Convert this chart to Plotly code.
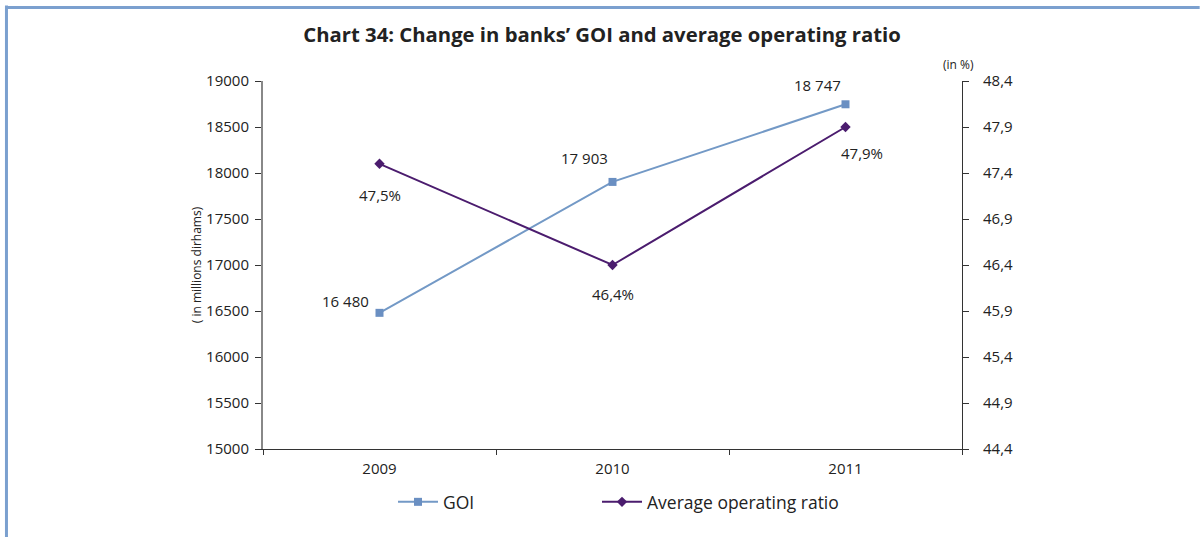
import plotly.graph_objects as go

years = ["2009", "2010", "2011"]
goi = [16480, 17903, 18747]
ratio = [47.5, 46.4, 47.9]
goi_labels = ["16 480", "17 903", "18 747"]
ratio_labels = ["47,5%", "46,4%", "47,9%"]
left_ticks = [15000, 15500, 16000, 16500, 17000, 17500, 18000, 18500, 19000]
right_ticks = [44.4, 44.9, 45.4, 45.9, 46.4, 46.9, 47.4, 47.9, 48.4]
right_ticktext = ["44,4", "44,9", "45,4", "45,9", "46,4", "46,9", "47,4", "47,9", "48,4"]

FONT = "Open Sans"
goi_color = "#7399c6"
ratio_color = "#4b1c6e"

fig = go.Figure()
fig.add_trace(go.Scatter(
    x=years, y=goi, name="GOI", mode="lines+markers", legend="legend",
    line=dict(color=goi_color, width=2),
    marker=dict(symbol="square", size=8, color="#6a8fc2"),
))
fig.add_trace(go.Scatter(
    x=years, y=ratio, name="Average operating ratio", mode="lines+markers",
    yaxis="y2", legend="legend2",
    line=dict(color=ratio_color, width=2),
    marker=dict(symbol="diamond", size=8, color=ratio_color),
))

# data labels (category index used for x so "2009" is not read as an index)
goi_shift = [(-34, 12), (-28, 24), (-28, 19)]
for i, (y, t, (dx, dy)) in enumerate(zip(goi, goi_labels, goi_shift)):
    fig.add_annotation(x=i, y=y, text=t, showarrow=False, xshift=dx, yshift=dy,
                       font=dict(size=15, color="#222", family=FONT))
ratio_shift = [(0, -31), (0, -29), (16, -26)]
for i, (y, t, (dx, dy)) in enumerate(zip(ratio, ratio_labels, ratio_shift)):
    fig.add_annotation(x=i, y=y, text=t, showarrow=False, xshift=dx, yshift=dy, yref="y2",
                       font=dict(size=15, color="#222", family=FONT))

fig.add_annotation(x=1.0, y=1.0, xref="paper", yref="paper", text="(in %)",
                   showarrow=False, xanchor="center", yanchor="bottom", xshift=-4, yshift=6,
                   font=dict(size=12, color="#222", family=FONT))

# page border: left edge and top edge
fig.add_shape(type="line", xref="paper", yref="paper", x0=-0.367, x1=-0.367, y0=-0.3, y1=1.205,
              line=dict(color="#7ba0cf", width=3), layer="above")
fig.add_shape(type="line", xref="paper", yref="paper", x0=-0.367, x1=1.34, y0=1.2, y1=1.2,
              line=dict(color="#7ba0cf", width=3), layer="above")

legend_style = dict(orientation="h", xanchor="left", y=-0.095, yanchor="top",
                    font=dict(size=17.5), bgcolor="rgba(0,0,0,0)")

fig.update_layout(
    width=1204, height=537,
    margin=dict(l=263, r=242, t=81, b=88, autoexpand=False),
    paper_bgcolor="white", plot_bgcolor="white",
    font=dict(family=FONT, size=15, color="#222"),
    title=dict(text="<b>Chart 34: Change in banks’ GOI and average operating ratio</b>",
               x=0.5, xref="container", xanchor="center", y=1 - 35 / 537, yanchor="middle",
               font=dict(size=20.3, color="#222", family=FONT)),
    xaxis=dict(type="category", tickson="boundaries", range=[-0.5, 2.5], automargin=False,
               showline=True, linecolor="#333", linewidth=1, ticks="outside",
               ticklen=5, tickcolor="#333", showgrid=False, tickfont=dict(size=15),
               ticklabelstandoff=6),
    yaxis=dict(range=[15000, 19000], tickvals=left_ticks, ticktext=[str(v) for v in left_ticks],
               showline=True, linecolor="#888", linewidth=2, ticks="outside", ticklen=6,
               tickcolor="#333", showgrid=False, zeroline=False, automargin=False,
               title=dict(text="( in millions dirhams)", font=dict(size=12), standoff=2),
               tickfont=dict(size=15), ticklabelstandoff=3),
    yaxis2=dict(range=[44.4, 48.4], tickvals=right_ticks, ticktext=right_ticktext,
                overlaying="y", side="right", showline=True, linecolor="#333", linewidth=1,
                ticks="outside", ticklen=6, tickcolor="#333", showgrid=False, zeroline=False,
                automargin=False, tickfont=dict(size=15), ticklabelstandoff=11),
    legend=dict(x=(393 - 263) / 699, itemwidth=40, **legend_style),
    legend2=dict(x=(597 - 263) / 699, itemwidth=40, **legend_style),
    showlegend=True,
)

# drop the default 8px body margin so the figure sits at the page corner
fig.write_html("out.html", config={"displayModeBar": False},
               post_script="document.body.style.margin='0px';")
